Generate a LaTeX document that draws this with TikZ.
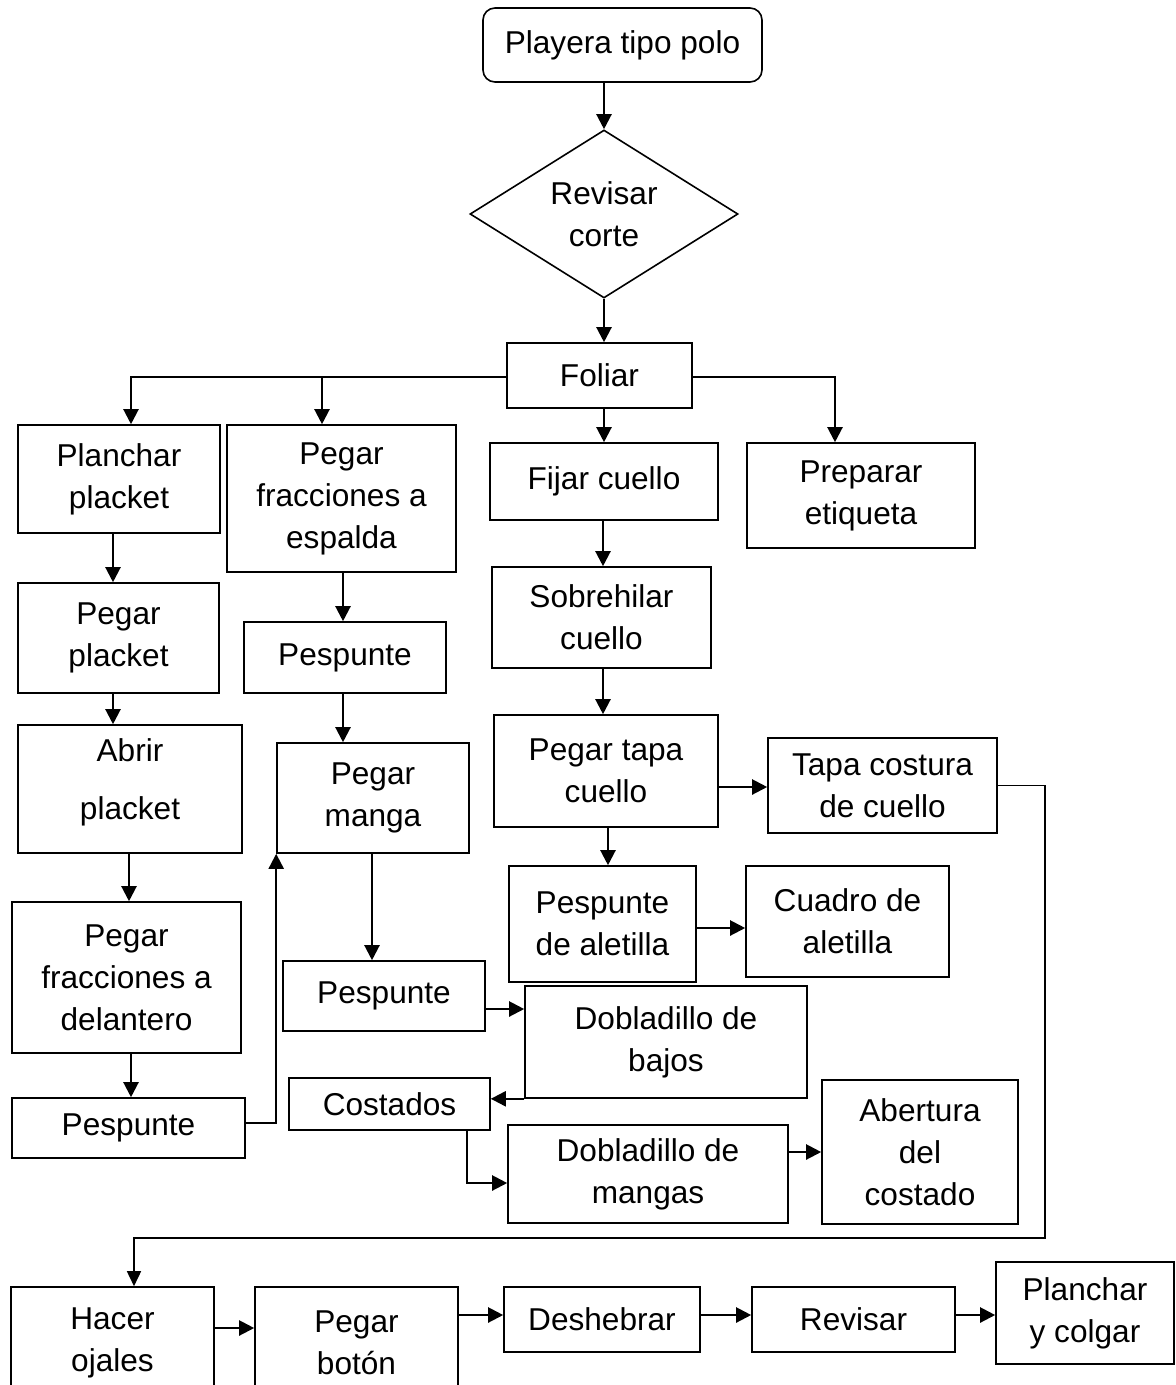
\documentclass[tikz,border=0pt]{standalone}
\usepackage{fontspec}
\setmainfont{Liberation Sans}
\usetikzlibrary{arrows.meta,shapes.geometric,calc}
\begin{document}
\begin{tikzpicture}[x=1pt,y=-1pt,
  box/.style={draw, line width=1.6pt, inner sep=0pt, align=center,
    font=\fontsize{31.6}{42}\selectfont},
  arr/.style={line width=2.2pt, -{Triangle[length=15pt,width=15pt]}},
  thinarr/.style={line width=1.6pt, -{Triangle[length=15pt,width=14pt]}}]
\useasboundingbox (0,0) rectangle (1176,1385);
\clip (0,0) rectangle (1176,1385);
\fill[white] (0,0) rectangle (1176,1385);
% nodes
\node[box, rounded corners=12pt, minimum width=279pt, minimum height=74pt] (playera) at (622.5,45) {Playera tipo polo};
\node[box, diamond, shape aspect=1.6, minimum width=268pt, minimum height=168pt] (revisar) at (604,214) {Revisar\\corte};
\node[box, minimum width=185pt, minimum height=65pt] (foliar) at (599.5,375.5) {Foliar};
\node[box, minimum width=202pt, minimum height=108pt] (planchar) at (119,479) {Planchar\\placket};
\node[box, minimum width=229pt, minimum height=147pt] (pegarfe) at (341.5,498.5) {Pegar\\fracciones a\\espalda};
\node[box, minimum width=228pt, minimum height=77pt] (fijar) at (604,481.5) {Fijar cuello};
\node[box, minimum width=228pt, minimum height=105pt] (preparar) at (861,495.5) {Preparar\\etiqueta};
\node[box, minimum width=201pt, minimum height=110pt] (pegarpl) at (118.5,638) {Pegar\\placket};
\node[box, minimum width=224pt, minimum height=128pt] (abrir) at (130,789) {Abrir\\[16pt]placket\\[-34pt]\strut};
\node[box, minimum width=229pt, minimum height=151pt] (pegarfd) at (126.5,977.5) {Pegar\\fracciones a\\delantero};
\node[box, minimum width=233pt, minimum height=60pt] (pesp1) at (128.5,1128) {Pespunte};
\node[box, minimum width=202pt, minimum height=71pt] (pesp2) at (345,657.5) {Pespunte};
\node[box, minimum width=192pt, minimum height=110pt] (manga) at (373,798) {Pegar\\manga};
\node[box, minimum width=202pt, minimum height=70pt] (pesp3) at (384,996) {Pespunte};
\node[box, minimum width=282pt, minimum height=112pt] (bajos) at (666,1042) {Dobladillo de\\bajos};
\node[box, minimum width=201pt, minimum height=52pt] (costados) at (389.5,1104) {Costados};
\node[box, minimum width=280pt, minimum height=98pt] (mangas) at (648,1174) {Dobladillo de\\mangas};
\node[box, minimum width=196pt, minimum height=144pt] (abertura) at (920,1152) {Abertura\\del\\costado};
\node[box, minimum width=219pt, minimum height=101pt] (sobre) at (601.5,617.5) {Sobrehilar\\cuello};
\node[box, minimum width=224pt, minimum height=112pt] (tapa) at (606,771) {Pegar tapa\\cuello};
\node[box, minimum width=229pt, minimum height=95pt] (tapacost) at (882.5,785.5) {Tapa costura\\de cuello};
\node[box, minimum width=187pt, minimum height=116pt] (aletilla) at (602.5,924) {Pespunte\\de aletilla};
\node[box, minimum width=203pt, minimum height=111pt] (cuadro) at (847.5,921.5) {Cuadro de\\aletilla};
\node[box, minimum width=203pt, minimum height=112pt] (hacer) at (112.5,1343) {Hacer\\ojales};
\node[box, minimum width=203pt, minimum height=112pt] (boton) at (356.5,1343) {Pegar\\botón};
\node[box, minimum width=196pt, minimum height=65pt] (desh) at (602,1319.5) {Deshebrar};
\node[box, minimum width=203pt, minimum height=65pt] (revisar2) at (853.5,1319.5) {Revisar};
\node[box, minimum width=178pt, minimum height=102pt] (planchar2) at (1085,1313) {Planchar\\y colgar};
\coordinate (r1) at (1045,1238);
\coordinate (fw) at ([yshift=-1.5pt]foliar.west);
\coordinate (pfe) at ([xshift=-19.5pt]pegarfe.north);
% connectors
\draw[arr] (revisar.north |- playera.south) -- (revisar.north);
\draw[arr] (revisar.south) -- (revisar.south |- foliar.north);
\draw[arr] (fw) -| ([xshift=12pt]planchar.north);
\draw[arr] (pfe |- fw) -- (pfe);
\draw[arr] ([yshift=-1.5pt]foliar.east) -| ([xshift=-26pt]preparar.north);
\draw[arr] (fijar.north |- foliar.south) -- (fijar.north);
\draw[arr] ([xshift=-6pt]planchar.south) -- ([xshift=-5.5pt]pegarpl.north);
\draw[arr] ([xshift=-5.5pt]pegarpl.south) -- ([xshift=-17pt]abrir.north);
\draw[arr] ([xshift=-1pt]abrir.south) -- ([xshift=2.5pt]pegarfd.north);
\draw[arr] ([xshift=4.5pt]pegarfd.south) -- ([xshift=2.5pt]pesp1.north);
\draw[arr] ([yshift=5pt]pesp1.east) -| (manga.south west);
\draw[arr] ([xshift=1.5pt]pegarfe.south) -- ([xshift=-2pt]pesp2.north);
\draw[arr] ([xshift=-2pt]pesp2.south) -- ([xshift=-30pt]manga.north);
\draw[arr] ([xshift=-1pt]manga.south) -- ([xshift=-12pt]pesp3.north);
\draw[arr] ([yshift=-13pt,xshift=-2pt]pesp3.east) -- ([yshift=33pt]bajos.west);
\draw[arr] (bajos.south west) -- (bajos.south west -| costados.east);
\draw[arr] ([xshift=-24pt]costados.south east) |- ([yshift=-9pt]mangas.west);
\draw[arr] ([yshift=22pt]mangas.east) -- ([yshift=22pt]mangas.east -| abertura.west);
\draw[arr] ([xshift=-1pt]fijar.south) -- ([xshift=1.5pt]sobre.north);
\draw[arr] ([xshift=1.5pt]sobre.south) -- ([xshift=-3pt]tapa.north);
\draw[arr] ([yshift=-16pt]tapa.east) -- ([yshift=-1.5pt]tapacost.west);
\draw[thinarr] (tapacost.east) -| (r1) -| ([xshift=21.5pt]hacer.north);
\draw[arr] ([xshift=2pt]tapa.south) -- ([xshift=5.5pt]aletilla.north);
\draw[arr] ([yshift=-4pt]aletilla.east) -- ([yshift=-6.5pt]cuadro.west);
\draw[arr] ([yshift=15pt]hacer.east) -- ([yshift=15pt]boton.west);
\draw[arr] ([yshift=28pt]boton.east) -- ([yshift=4.5pt]desh.west);
\draw[arr] ([yshift=4.5pt]desh.east) -- ([yshift=4.5pt]revisar2.west);
\draw[arr] ([yshift=4.5pt]revisar2.east) -- ([yshift=-2pt]planchar2.west);
\end{tikzpicture}
\end{document}
